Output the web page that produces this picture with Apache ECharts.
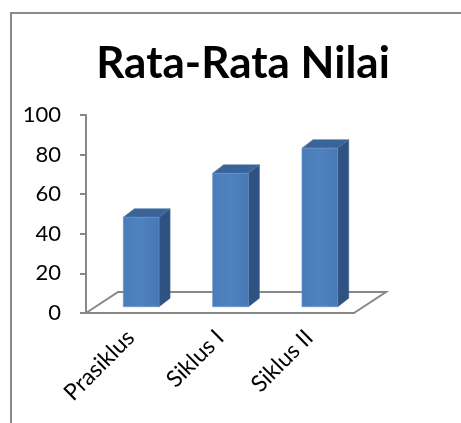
<!DOCTYPE html>
<html>
<head>
<meta charset="utf-8">
<script src="https://cdn.jsdelivr.net/npm/echarts@6/dist/echarts.min.js"></script>
<style>
  html, body { margin: 0; padding: 0; background: #fff; overflow: hidden; }
  #chart { width: 461px; height: 423px; }
</style>
</head>
<body>
<div id="chart"></div>
<script>
// data
const categories = ['Prasiklus', 'Siklus I', 'Siklus II'];
const values = [45.2, 67.4, 80.1];
const yTicks = { min: 0, max: 100, interval: 20 };

const FONT = 'Lato';
const AXIS_GRAY = '#878787';

// oblique "3D" look, Excel style
const floorDepth = [32, -21];
const barDepth = [11, -8.5];
const barRatio = 0.4;

function renderFloor(params, api) {
  const cs = params.coordSys;
  const x0 = cs.x, x1 = cs.x + cs.width, y = cs.y + cs.height;
  return {
    type: 'polyline',
    shape: {
      points: [
        [x0, y],
        [x0 + floorDepth[0], y + floorDepth[1]],
        [x1 + floorDepth[0], y + floorDepth[1]],
        [x1, y]
      ]
    },
    style: { stroke: AXIS_GRAY, lineWidth: 2, fill: null }
  };
}

function renderBar(params, api) {
  const base = api.coord([api.value(0), 0]);
  const top = api.coord([api.value(0), api.value(1)]);
  const band = api.size([1, 0])[0];
  const w = band * barRatio;
  // put the bar in the middle of the floor depth
  const sx = floorDepth[0] / 2 - barDepth[0] / 2;
  const sy = floorDepth[1] / 2 - barDepth[1] / 2;
  const x0 = base[0] + sx - w / 2;
  const x1 = x0 + w;
  const yb = base[1] + sy;
  const yt = top[1] + sy;
  const dx = barDepth[0], dy = barDepth[1];
  return {
    type: 'group',
    children: [
      {
        type: 'polygon',
        shape: { points: [[x1, yb], [x1 + dx, yb + dy], [x1 + dx, yt + dy], [x1, yt]] },
        style: { fill: '#2f5282', stroke: '#3a5f8f', lineWidth: 0.6 }
      },
      {
        type: 'polygon',
        shape: { points: [[x0, yt], [x1, yt], [x1 + dx, yt + dy], [x0 + dx, yt + dy]] },
        style: { fill: '#3a6397', stroke: '#5079aa', lineWidth: 0.6 }
      },
      {
        type: 'rect',
        shape: { x: x0, y: yt, width: w, height: yb - yt },
        style: {
          fill: {
            type: 'linear', x: 0, y: 0, x2: 1, y2: 0,
            colorStops: [
              { offset: 0, color: '#4a7cba' },
              { offset: 0.5, color: '#4f82c0' },
              { offset: 1, color: '#4778b5' }
            ]
          },
          stroke: '#6a94c8',
          lineWidth: 0.6
        }
      }
    ]
  };
}

const chart = echarts.init(document.getElementById('chart'), null, { renderer: 'canvas' });

chart.setOption({
  animation: false,
  backgroundColor: '#fff',
  graphic: [{
    type: 'rect',
    shape: { x: 11, y: 13, width: 470, height: 430 },
    style: { fill: null, stroke: '#8a8a8a', lineWidth: 2 },
    silent: true
  }],
  title: {
    text: 'Rata-Rata Nilai',
    left: 238,
    textAlign: 'center',
    top: 37,
    textStyle: { fontFamily: FONT, fontWeight: 'bold', fontSize: 44, color: '#000' }
  },
  grid: { left: 86, top: 115, width: 268, height: 198 },
  xAxis: {
    type: 'category',
    data: categories,
    axisLine: { lineStyle: { color: AXIS_GRAY, width: 2 } },
    axisTick: { length: 8, lineStyle: { color: AXIS_GRAY, width: 2 } },
    axisLabel: {
      rotate: 45,
      margin: 21,
      fontFamily: FONT,
      fontSize: 23,
      color: '#000'
    }
  },
  yAxis: {
    type: 'value',
    min: yTicks.min,
    max: yTicks.max,
    interval: yTicks.interval,
    axisLine: { show: true, lineStyle: { color: AXIS_GRAY, width: 2 } },
    axisTick: { show: true, length: 6, lineStyle: { color: AXIS_GRAY, width: 2 } },
    splitLine: { show: false },
    axisLabel: { margin: 25, fontFamily: FONT, fontSize: 22, color: '#000' }
  },
  series: [
    {
      type: 'custom',
      renderItem: renderFloor,
      data: [0],
      z: 1,
      silent: true
    },
    {
      type: 'custom',
      renderItem: renderBar,
      data: values.map((v, i) => [i, v]),
      encode: { x: 0, y: 1 },
      z: 2
    }
  ]
});
</script>
</body>
</html>
